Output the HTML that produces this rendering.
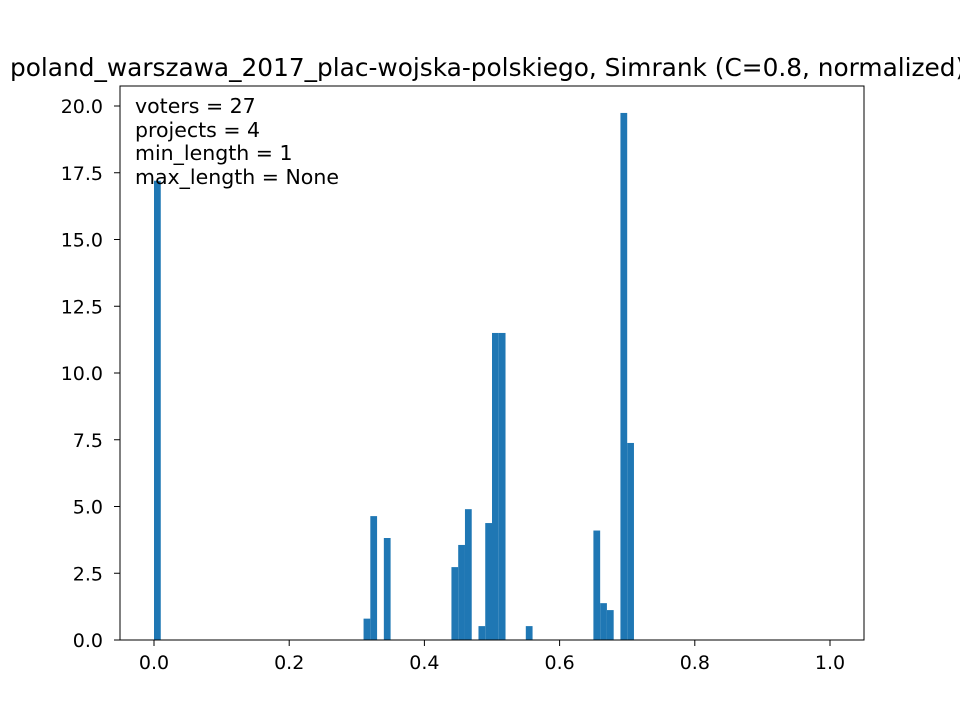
<!DOCTYPE html>
<html><head><meta charset="utf-8"><style>
body{margin:0;background:#fff;font-family:"Liberation Sans","DejaVu Sans",sans-serif}
svg text{font-family:"DejaVu Sans","Liberation Sans",sans-serif}
</style></head><body>
<svg id="chart" width="960" height="720" xmlns="http://www.w3.org/2000/svg">
<rect width="960" height="720" fill="#fff"/>
<text x="10" y="76" font-size="24.8">poland_warszawa_2017_plac-wojska-polskiego, Simrank (C=0.8, normalized)</text>
<g id="bars"></g>
<g id="axes"></g>
<g font-size="20.5">
<text x="135" y="113">voters = 27</text>
<text x="135" y="137">projects = 4</text>
<text x="135" y="160">min_length = 1</text>
<text x="135" y="184">max_length = None</text>
</g>
</svg>
<script>
const binIndex=[0,31,32,34,44,45,46,48,49,50,51,55,65,66,67,69,70];
const binValue=[17.2,0.8,4.64,3.82,2.73,3.56,4.9,0.52,4.38,11.5,11.5,0.52,4.1,1.38,1.12,19.74,7.38];
const xTicks=[0,0.2,0.4,0.6,0.8,1.0];
const yTicks=[0,2.5,5,7.5,10,12.5,15,17.5,20];
const binWidth=0.01;
const L=120,R=864,T=86,B=640;
const X=v=>154+v*676;
const Y=v=>640-v*26.7;
const NS="http://www.w3.org/2000/svg";
const bars=document.getElementById('bars');
binIndex.forEach((b,i)=>{
 const r=document.createElementNS(NS,'rect');
 const x0=X(b*binWidth),x1=X((b+1)*binWidth);
 r.setAttribute('x',x0);r.setAttribute('width',x1-x0);
 r.setAttribute('y',Y(binValue[i]));r.setAttribute('height',B-Y(binValue[i]));
 r.setAttribute('fill','#1f77b4');
 
 
 bars.appendChild(r);
});
const ax=document.getElementById('axes');
let h=`<rect x="${L}" y="${T}" width="${R-L}" height="${B-T}" fill="none" stroke="#000" stroke-width="1"/>`;
xTicks.forEach(t=>{const x=X(t);h+=`<line x1="${x}" y1="${B}" x2="${x}" y2="${B+6}" stroke="#000"/><text x="${x}" y="${B+29}" font-size="19" text-anchor="middle">${t.toFixed(1)}</text>`;});
yTicks.forEach(t=>{const y=Y(t);h+=`<line x1="${L-6}" y1="${y}" x2="${L}" y2="${y}" stroke="#000"/><text x="${L-17}" y="${y+7}" font-size="19" text-anchor="end">${t.toFixed(1)}</text>`;});
ax.innerHTML=h;
</script>
</body></html>
